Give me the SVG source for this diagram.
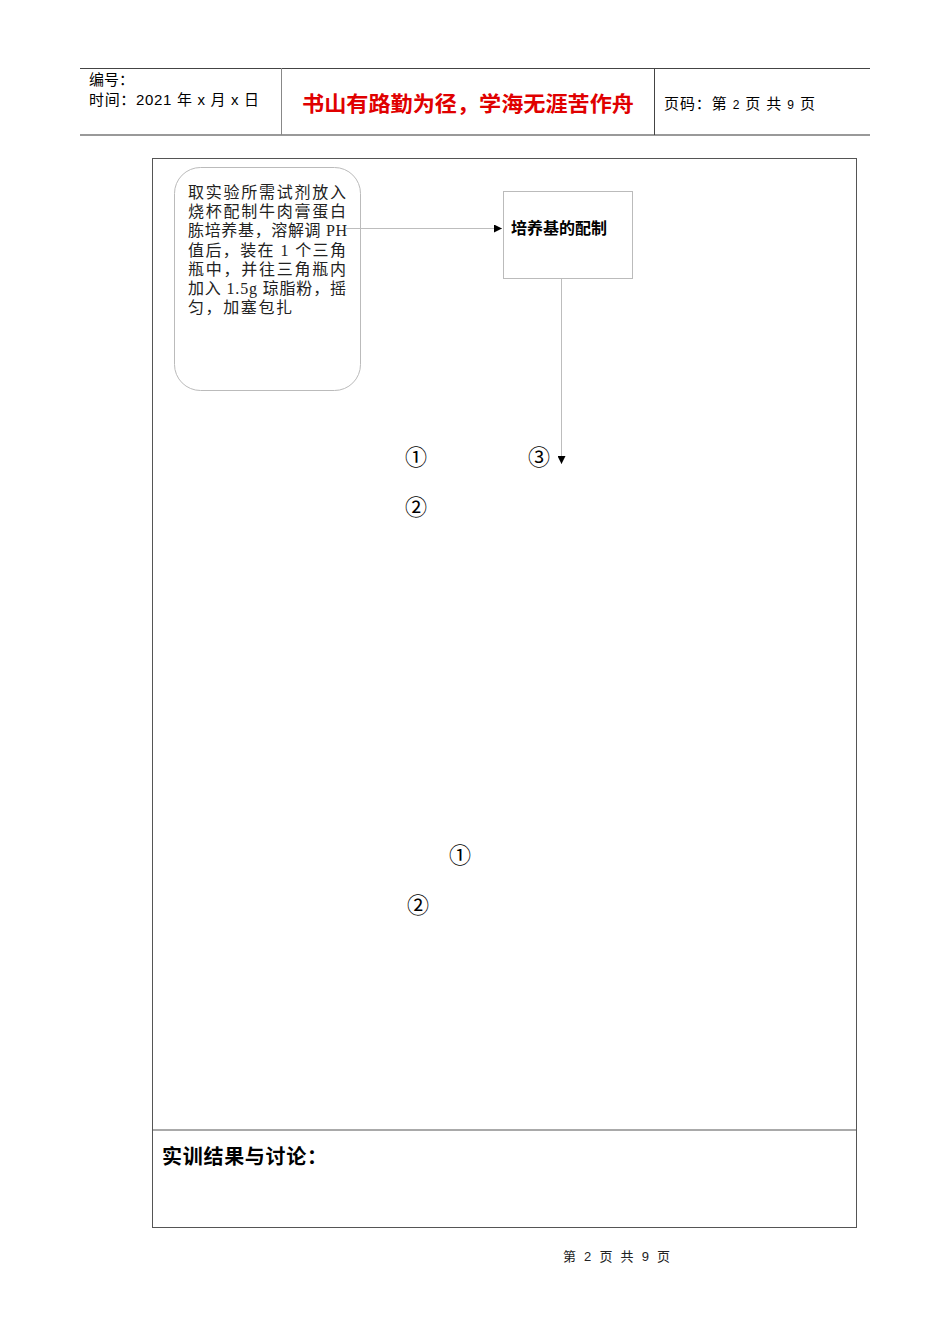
<svg xmlns="http://www.w3.org/2000/svg" width="950" height="1344" viewBox="0 0 950 1344">
<style>
.sans{font-family:"Liberation Sans","Noto Sans CJK SC",sans-serif;}
.serif{font-family:"Liberation Serif","Noto Sans CJK SC",serif;}
.hdr{font-size:15px;fill:#000;}
.body{font-size:16px;fill:#222;}
.circ{font-size:22px;fill:#000;}
.conn{stroke:#bdbdbd;stroke-width:1;fill:none;}
</style>
<defs>
<marker id="arr" markerWidth="8" markerHeight="8" refX="8" refY="4" orient="auto" markerUnits="userSpaceOnUse">
<path d="M0,0 L8,4 L0,8 Z" fill="#000"/>
</marker>
</defs>
<rect width="950" height="1344" fill="#fff"/>
<g id="header">
<line x1="80" y1="68.5" x2="870" y2="68.5" stroke="#444" stroke-width="1"/>
<line x1="80" y1="135" x2="870" y2="135" stroke="#999" stroke-width="2"/>
<line x1="281.5" y1="68" x2="281.5" y2="135" stroke="#888" stroke-width="1"/>
<line x1="654.5" y1="68" x2="654.5" y2="135" stroke="#444" stroke-width="1"/>
<text class="sans hdr" x="89" y="85">编号：</text>
<text class="sans hdr" x="89" y="105" textLength="170" lengthAdjust="spacing">时间：2021 年 x 月 x 日</text>
<text class="sans" x="302" y="111" font-size="21" font-weight="bold" fill="#e00000" textLength="332" lengthAdjust="spacingAndGlyphs">书山有路勤为径，学海无涯苦作舟</text>
<text class="sans hdr" x="664" y="109" textLength="151" lengthAdjust="spacing">页码：第 <tspan font-size="12">2</tspan> 页  共 <tspan font-size="12">9</tspan> 页</text>
</g>
<g id="frame">
<rect x="152.5" y="158.5" width="704" height="1069" fill="none" stroke="#555" stroke-width="1"/>
<line x1="152" y1="1130" x2="857" y2="1130" stroke="#555" stroke-width="1"/>
</g>
<g id="node-prep">
<rect x="174.5" y="167.5" width="186" height="223" rx="26" ry="26" fill="#fff" stroke="#bbb" stroke-width="1"/>
<text class="serif body" x="188" y="198" textLength="158" lengthAdjust="spacing">取实验所需试剂放入</text>
<text class="serif body" x="188" y="217" textLength="158" lengthAdjust="spacing">烧杯配制牛肉膏蛋白</text>
<text class="serif body" x="188" y="236" textLength="159" lengthAdjust="spacing">胨培养基，溶解调 PH</text>
<text class="serif body" x="188" y="256" textLength="158" lengthAdjust="spacing">值后，装在 1 个三角</text>
<text class="serif body" x="188" y="275" textLength="158" lengthAdjust="spacing">瓶中，并往三角瓶内</text>
<text class="serif body" x="188" y="294" textLength="158" lengthAdjust="spacing">加入 1.5g 琼脂粉，摇</text>
<text class="serif body" x="188" y="313" letter-spacing="1.6">匀，加塞包扎</text>
</g>
<g id="node-medium">
<rect x="503.5" y="191.5" width="129" height="87" fill="#fff" stroke="#bbb" stroke-width="1"/>
<text class="sans" x="511" y="234" font-size="16" font-weight="bold" fill="#000">培养基的配制</text>
</g>
<g id="connectors">
<line class="conn" x1="346" y1="228.5" x2="502" y2="228.5" marker-end="url(#arr)"/>
<line class="conn" x1="561.5" y1="279" x2="561.5" y2="464" marker-end="url(#arr)"/>
</g>
<g id="labels">
<text class="serif circ" x="416" y="465" text-anchor="middle">①</text>
<text class="serif circ" x="539" y="465" text-anchor="middle">③</text>
<text class="serif circ" x="416" y="515" text-anchor="middle">②</text>
<text class="serif circ" x="460" y="863" text-anchor="middle">①</text>
<text class="serif circ" x="418" y="913" text-anchor="middle">②</text>
</g>
<g id="results">
<text class="sans" x="162" y="1164" font-size="20" font-weight="bold" fill="#000" textLength="165" lengthAdjust="spacing">实训结果与讨论：</text>
</g>
<g id="footer">
<text class="sans" x="563" y="1261" font-size="13" fill="#222" textLength="107" lengthAdjust="spacing">第 2 页 共 9 页</text>
</g>
</svg>
